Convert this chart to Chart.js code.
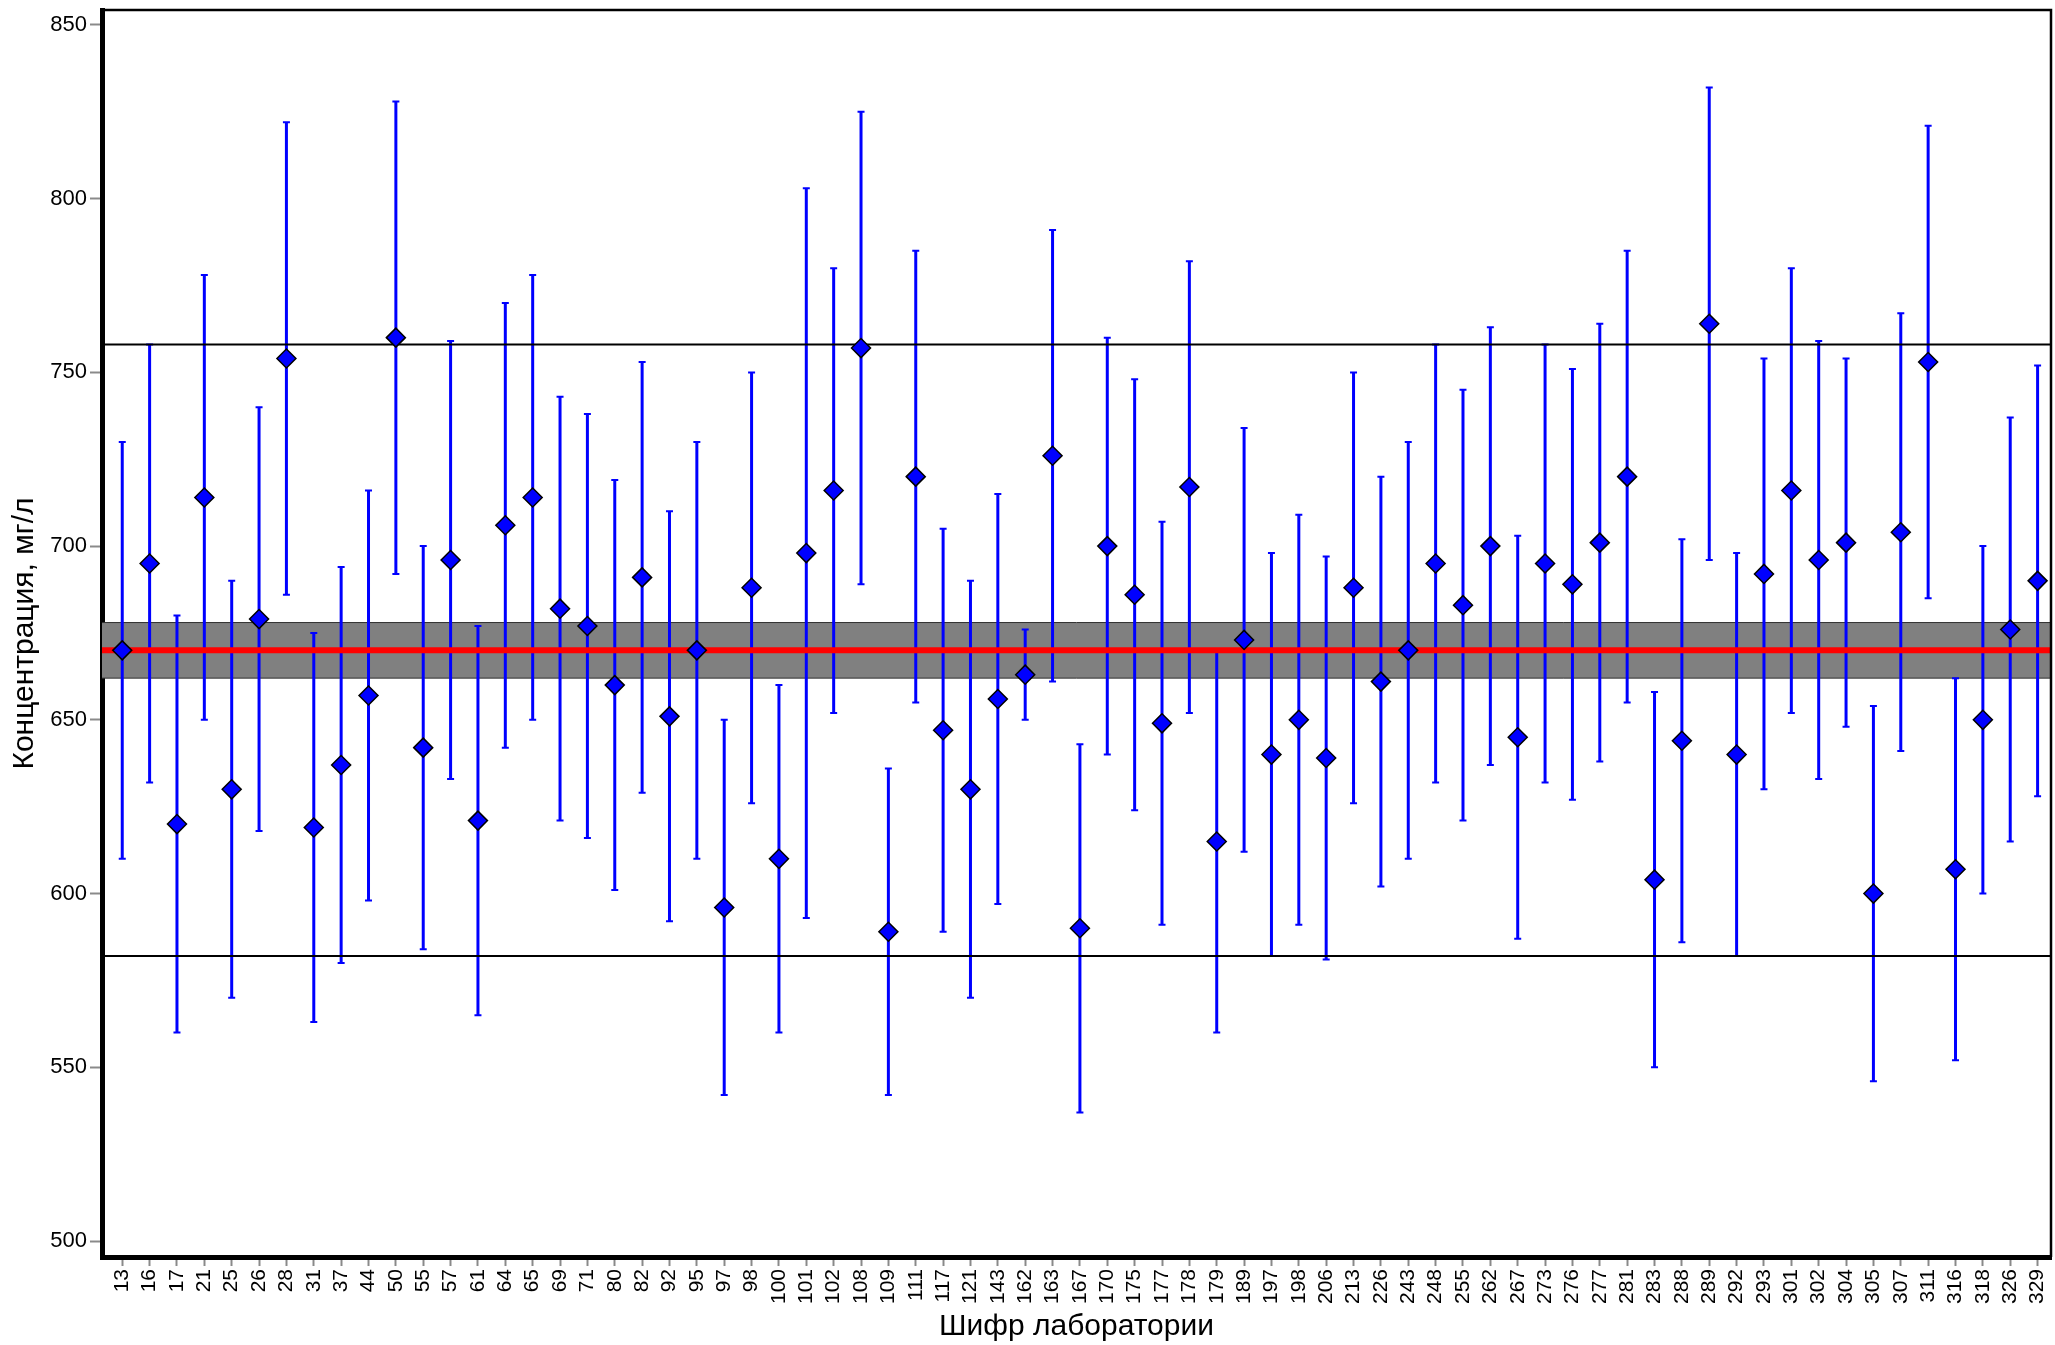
<!doctype html>
<html>
<head>
<meta charset="utf-8" />
<title>Концентрация по лабораториям</title>
<script src="https://cdn.jsdelivr.net/npm/chart.js@4.4.1/dist/chart.umd.min.js"></script>
<style>
	html, body { margin: 0; padding: 0; background: #fff; }
	canvas { display: block; }
</style>
</head>
<body>
<canvas id="chart" width="2055" height="1345"></canvas>
<script>
	// lab codes along the x axis
	const labCodes = [
		"13", "16", "17", "21", "25", "26", "28", "31", "37", "44", "50", "55", "57", "61", "64", "65",
		"69", "71", "80", "82", "92", "95", "97", "98", "100", "101", "102", "108", "109", "111", "117", "121",
		"143", "162", "163", "167", "170", "175", "177", "178", "179", "189", "197", "198", "206", "213", "226", "243",
		"248", "255", "262", "267", "273", "276", "277", "281", "283", "288", "289", "292", "293", "301", "302", "304",
		"305", "307", "311", "316", "318", "326", "329",
	];
	// reported result, mg/l
	const concentration = [
		670, 695, 620, 714, 630, 679, 754, 619, 637, 657, 760, 642, 696, 621, 706, 714,
		682, 677, 660, 691, 651, 670, 596, 688, 610, 698, 716, 757, 589, 720, 647, 630,
		656, 663, 726, 590, 700, 686, 649, 717, 615, 673, 640, 650, 639, 688, 661, 670,
		695, 683, 700, 645, 695, 689, 701, 720, 604, 644, 764, 640, 692, 716, 696, 701,
		600, 704, 753, 607, 650, 676, 690,
	];
	// expanded uncertainty (half width of the bar), mg/l
	const uncertainty = [
		60, 63, 60, 64, 60, 61, 68, 56, 57, 59, 68, 58, 63, 56, 64, 64,
		61, 61, 59, 62, 59, 60, 54, 62, 50, 105, 64, 68, 47, 65, 58, 60,
		59, 13, 65, 53, 60, 62, 58, 65, 55, 61, 58, 59, 58, 62, 59, 60,
		63, 62, 63, 58, 63, 62, 63, 65, 54, 58, 68, 58, 62, 64, 63, 53,
		54, 63, 68, 55, 50, 61, 62,
	];
	const yTicks = [500, 550, 600, 650, 700, 750, 800, 850];

	const assignedValue = 670;
	const assignedBand = [662, 678];
	const limitLines = [582, 758];

	const FONT = "'Liberation Sans', Arial, Helvetica, sans-serif";

	const referencePlugin = {
		id: "referenceLines",
		beforeDatasetsDraw(chart) {
			const { ctx, chartArea: a, scales: { x, y } } = chart;
			ctx.save();
			ctx.beginPath();
			ctx.rect(a.left, a.top, a.width, a.height);
			ctx.clip();

			// uncertainty band of the assigned value
			const bTop = y.getPixelForValue(assignedBand[1]);
			const bBot = y.getPixelForValue(assignedBand[0]);
			ctx.fillStyle = "#808080";
			ctx.fillRect(a.left, bTop, a.width, bBot - bTop);
			ctx.strokeStyle = "#303030";
			ctx.lineWidth = 1;
			ctx.beginPath();
			ctx.moveTo(a.left, bTop); ctx.lineTo(a.right, bTop);
			ctx.moveTo(a.left, bBot); ctx.lineTo(a.right, bBot);
			ctx.stroke();

			// error bars
			ctx.strokeStyle = "#0000ff";
			labCodes.forEach((_, i) => {
				const px = x.getPixelForValue(i);
				const top = y.getPixelForValue(concentration[i] + uncertainty[i]);
				const bot = y.getPixelForValue(concentration[i] - uncertainty[i]);
				ctx.lineWidth = 3;
				ctx.beginPath();
				ctx.moveTo(px, top); ctx.lineTo(px, bot);
				ctx.stroke();
				ctx.lineWidth = 2;
				ctx.beginPath();
				ctx.moveTo(px - 3.5, top); ctx.lineTo(px + 3.5, top);
				ctx.moveTo(px - 3.5, bot); ctx.lineTo(px + 3.5, bot);
				ctx.stroke();
			});

			// assigned value
			const yc = y.getPixelForValue(assignedValue);
			ctx.strokeStyle = "#ff0000";
			ctx.lineWidth = 6;
			ctx.beginPath();
			ctx.moveTo(a.left, yc); ctx.lineTo(a.right, yc);
			ctx.stroke();

			// action limits
			ctx.strokeStyle = "#000";
			ctx.lineWidth = 2;
			limitLines.forEach((v) => {
				const py = y.getPixelForValue(v);
				ctx.beginPath();
				ctx.moveTo(a.left, py); ctx.lineTo(a.right, py);
				ctx.stroke();
			});
			ctx.restore();
		},
		afterDraw(chart) {
			// thin frame on top and right
			const { ctx, chartArea: a } = chart;
			ctx.save();
			ctx.strokeStyle = "#000";
			ctx.lineWidth = 2.5;
			ctx.beginPath();
			ctx.moveTo(a.left, a.top); ctx.lineTo(a.right, a.top); ctx.lineTo(a.right, a.bottom);
			ctx.stroke();
			ctx.restore();
		},
	};

	// keep the plot area fixed: no extra room for overhanging labels
	function noLabelPadding(s) {
		s.paddingLeft = 0;
		s.paddingRight = 0;
		s.paddingTop = 0;
		s.paddingBottom = 0;
	}

	new Chart(document.getElementById("chart"), {
		type: "scatter",
		data: {
			datasets: [{
				data: concentration.map((v, i) => ({ x: i, y: v })),
				pointStyle: "rectRot",
				pointRadius: 9.5,
				pointHoverRadius: 9.5,
				backgroundColor: "#0000ff",
				borderColor: "#000",
				borderWidth: 1.5,
			}],
		},
		options: {
			responsive: false,
			animation: false,
			devicePixelRatio: 1,
			layout: { autoPadding: false, padding: { top: 10, right: 4, left: 0, bottom: 0 } },
			plugins: { legend: { display: false }, tooltip: { enabled: false } },
			scales: {
				x: {
					type: "linear",
					min: -0.74,
					max: 70.49,
					afterBuildTicks: (s) => { s.ticks = labCodes.map((_, i) => ({ value: i })); },
					afterFit: (s) => { s.height = 88; noLabelPadding(s); },
					grid: { drawOnChartArea: false, drawTicks: true, tickLength: 9, tickWidth: 2, color: "#8a8a8a" },
					border: { display: true, color: "#000", width: 5 },
					ticks: {
						autoSkip: false,
						minRotation: 90,
						maxRotation: 90,
						padding: 3,
						color: "#000",
						font: { family: FONT, size: 21 },
						callback: (v) => labCodes[v],
					},
					title: {
						display: true,
						text: "Шифр лаборатории",
						color: "#000",
						font: { family: FONT, size: 30 },
						padding: { top: 0, bottom: 0 },
					},
				},
				y: {
					min: 495.4,
					max: 854.3,
					afterBuildTicks: (s) => { s.ticks = yTicks.map((v) => ({ value: v })); },
					afterFit: (s) => { s.width = 102; noLabelPadding(s); },
					grid: { drawOnChartArea: false, drawTicks: true, tickLength: 12, tickWidth: 2, color: "#8a8a8a" },
					border: { display: true, color: "#000", width: 5 },
					ticks: {
						padding: 3,
						color: "#000",
						font: { family: FONT, size: 22 },
					},
					title: {
						display: true,
						text: "Концентрация, мг/л",
						color: "#000",
						font: { family: FONT, size: 30 },
						padding: { top: 7, bottom: 0 },
					},
				},
			},
		},
		plugins: [referencePlugin],
	});
</script>
</body>
</html>
